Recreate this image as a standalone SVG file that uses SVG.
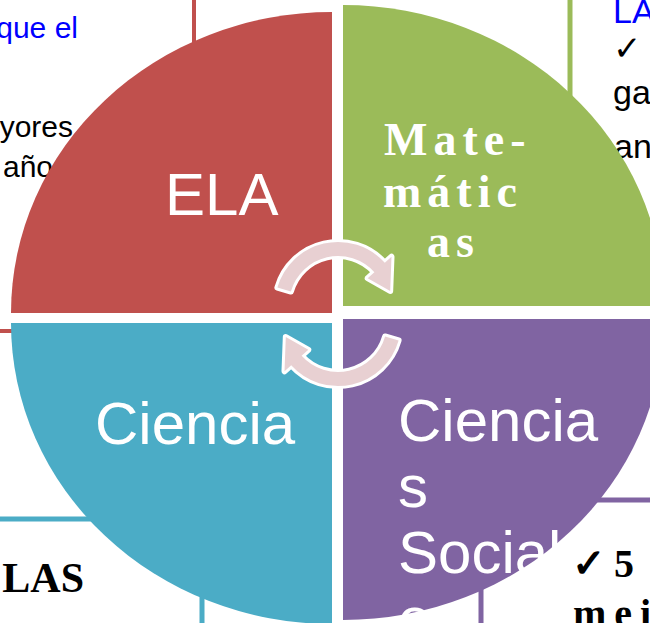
<svg xmlns="http://www.w3.org/2000/svg" width="650" height="623" viewBox="0 0 650 623">
<style>
.bt{font-family:"Liberation Sans",Arial,sans-serif;font-size:30px;fill:#000}
.bl{fill:#0000FF}
.bs{font-family:"Liberation Serif","Times New Roman","DejaVu Serif",serif;font-weight:bold;fill:#000}
.lab{font-family:"Liberation Sans",Arial,sans-serif;font-size:60px;fill:#fff}
.mat{font-family:"Liberation Serif","Times New Roman",serif;font-size:46px;font-weight:bold;fill:#fff;letter-spacing:6px}
.arr{fill:#E8D0D2;stroke:#fff;stroke-width:6;stroke-linejoin:round;paint-order:stroke}
</style>
<rect width="650" height="623" fill="#fff"/>
<g id="boxes" fill="none" stroke-width="4">
  <path d="M194,0 V60 M0,331 H40" stroke="#C0504D"/>
  <path d="M570,0 V120" stroke="#9BBB59" stroke-width="5"/>
  <path d="M0,519 H200 M202,519 V623" stroke="#4BACC6" stroke-width="5"/>
  <path d="M481,623 V500 H650" stroke="#8064A2" stroke-width="5"/>
</g>
<g id="box-texts">
  <text class="bt bl" x="78" y="38" text-anchor="end">que el</text>
  <text class="bt" x="73" y="137" text-anchor="end">yores</text>
  <text class="bt" x="3" y="177">año</text>
  <text class="bt bl" x="613" y="23" style="font-size:34px">LA</text>
  <text x="613" y="60" style="font-family:'DejaVu Sans',sans-serif;font-size:34px;font-weight:bold;fill:#000">✓</text>
  <text class="bt" x="613" y="104" style="font-size:34px">ga</text>
  <text class="bt" x="614" y="158" style="font-size:34px">an</text>
  <text class="bs" x="84" y="592" text-anchor="end" style="font-size:42px">LAS</text>
  <text class="bs" x="572" y="577" style="font-size:40px;letter-spacing:8px">✓5 c</text>
  <text class="bs" x="573" y="627" style="font-size:40px;letter-spacing:8px">mei</text>
</g>
<g id="ela">
  <path d="M332,313 L11,313 A321,301 0 0 1 332,12 Z" fill="#C0504D"/>
  <text class="lab" x="165" y="215">ELA</text>
</g>
<g id="matematicas">
  <path d="M343,306 L343,5 A321,301 0 0 1 664,306 Z" fill="#9BBB59"/>
  <text class="mat" x="384" y="155">Mate-</text>
  <text class="mat" x="383" y="207">mátic</text>
  <text class="mat" x="427" y="257">as</text>
</g>
<g id="ciencia">
  <path d="M332,323 L332,624 A321,301 0 0 1 11,323 Z" fill="#4BACC6"/>
  <text class="lab" x="95" y="444">Ciencia</text>
</g>
<g id="sociales">
  <path d="M343,319 L664,319 A321,301 0 0 1 343,620 Z" fill="#8064A2"/>
  <text class="lab" x="398" y="441">Ciencia</text>
  <text class="lab" x="398" y="507">s</text>
  <text class="lab" x="398" y="573">Social</text>
  <text class="lab" x="398" y="639">es</text>
</g>
<g id="connectors">
  <path class="arr" d="M277.4,287.6 A63,63 0 0 1 384.8,262.8 L391.5,256.8 L390.2,291 L367.7,278.2 L374.4,272.2 A49,49 0 0 0 290.9,291.5 Z"/>
  <path class="arr" transform="rotate(180 338 314)" d="M277.4,287.6 A63,63 0 0 1 384.8,262.8 L391.5,256.8 L390.2,291 L367.7,278.2 L374.4,272.2 A49,49 0 0 0 290.9,291.5 Z"/>
</g>
</svg>
